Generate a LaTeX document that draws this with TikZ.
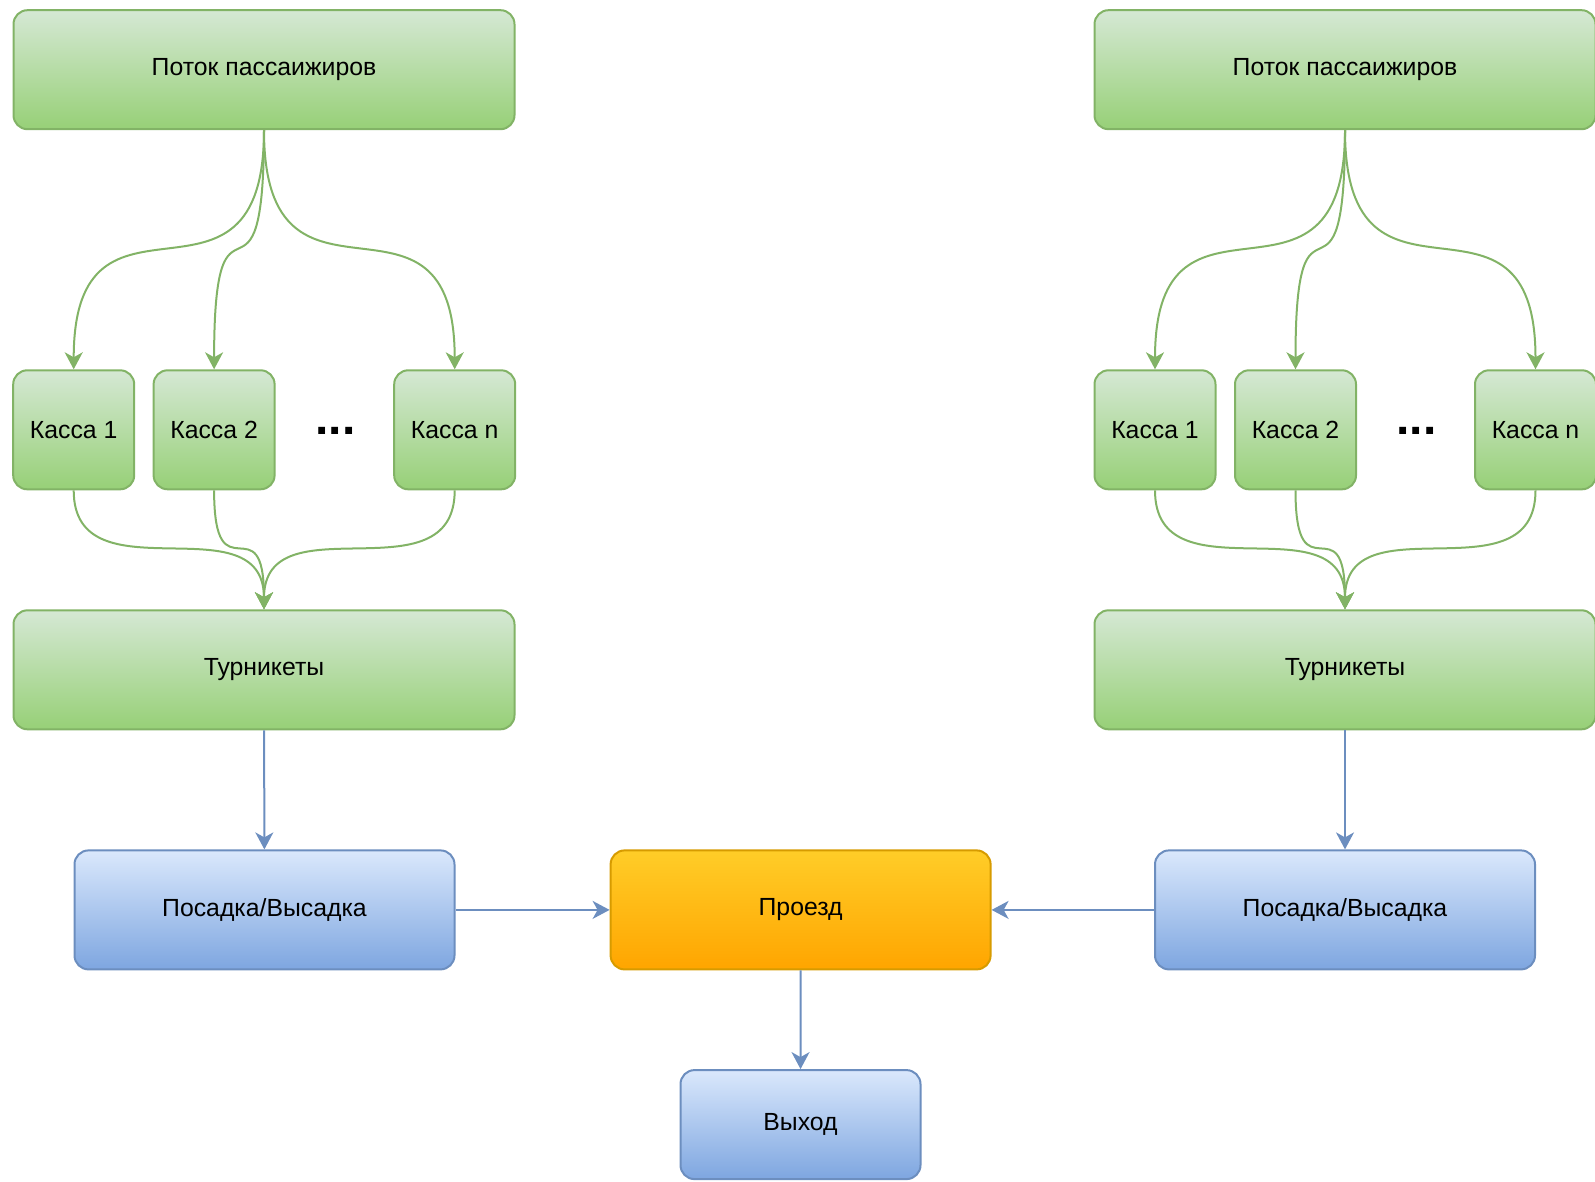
\documentclass[tikz,border=0pt]{standalone}
\usepackage{fontspec}
\setmainfont{Liberation Sans}
\usetikzlibrary{arrows.meta}
\definecolor{flgreentop}{HTML}{D5E8D4}
\definecolor{flgreenbot}{HTML}{97D077}
\definecolor{flgreenline}{HTML}{82B366}
\definecolor{flbluetop}{HTML}{DAE8FC}
\definecolor{flbluebot}{HTML}{7EA6E0}
\definecolor{flblueline}{HTML}{6C8EBF}
\definecolor{florangetop}{HTML}{FFCD28}
\definecolor{florangebot}{HTML}{FFA500}
\definecolor{florangeline}{HTML}{D79B00}

\begin{document}
\begin{tikzpicture}[
  x=0.5pt, y=-0.5pt,
  box/.style={rectangle, rounded corners=7pt, line width=1pt, inner sep=0pt, align=center, font=\fontsize{12.4}{14}\selectfont},
  greenbox/.style={box, draw=flgreenline, top color=flgreentop, bottom color=flgreenbot},
  bluebox/.style={box, draw=flblueline, top color=flbluetop, bottom color=flbluebot},
  orangebox/.style={box, draw=florangeline, top color=florangetop, bottom color=florangebot},
  wide/.style={minimum width=250.5pt, minimum height=59.5pt},
  kassa/.style={minimum width=60.5pt, minimum height=59.5pt},
  mid/.style={minimum width=190pt, minimum height=59.5pt},
  greenarrow/.style={-{Stealth[length=8.5pt, width=9pt, inset=2.5pt]}, line width=1pt, draw=flgreenline},
  bluearrow/.style={-{Stealth[length=8.5pt, width=9pt, inset=2.5pt]}, line width=1pt, draw=flblueline}
]
\useasboundingbox (0,0) rectangle (1595,1182);

% Left side
\node[greenbox, wide] (fL) at (264,69.7) {Поток пассаижиров};
\node[greenbox, kassa] (k1L) at (73.7,429.8) {Касса 1};
\node[greenbox, kassa] (k2L) at (214.1,429.8) {Касса 2};
\node[greenbox, kassa] (knL) at (454.7,429.8) {Касса n};
\node[anchor=base, inner sep=0pt, font=\fontsize{24}{24}\selectfont\bfseries] (dotsL) at (335.5,434) {...};
\node[greenbox, wide] (tL) at (264,669.8) {Турникеты};
\node[bluebox, mid] (pL) at (264.5,909.9) {Посадка/Высадка};

% Right side
\node[greenbox, wide] (fR) at (1345,69.7) {Поток пассаижиров};
\node[greenbox, kassa] (k1R) at (1155,429.8) {Касса 1};
\node[greenbox, kassa] (k2R) at (1295.5,429.8) {Касса 2};
\node[greenbox, kassa] (knR) at (1535.5,429.8) {Касса n};
\node[anchor=base, inner sep=0pt, font=\fontsize{24}{24}\selectfont\bfseries] (dotsR) at (1416.5,434) {...};
\node[greenbox, wide] (tR) at (1345,669.8) {Турникеты};
\node[bluebox, mid] (pR) at (1345,909.9) {Посадка/Высадка};

% Middle
\node[orangebox, mid] (ride) at (800.6,909.9) {Проезд};
\node[bluebox, minimum width=120pt, minimum height=54.5pt] (exit) at (800.5,1124.6) {Выход};

% Flow to the ticket desks
\draw[greenarrow] (fL.south) .. controls +(0,210) and +(0,-210) .. (k1L.north);
\draw[greenarrow] (fL.south) .. controls +(0,210) and +(0,-210) .. (k2L.north);
\draw[greenarrow] (fL.south) .. controls +(0,210) and +(0,-210) .. (knL.north);
\draw[greenarrow] (fR.south) .. controls +(0,210) and +(0,-210) .. (k1R.north);
\draw[greenarrow] (fR.south) .. controls +(0,210) and +(0,-210) .. (k2R.north);
\draw[greenarrow] (fR.south) .. controls +(0,210) and +(0,-210) .. (knR.north);

% Ticket desks to the turnstiles
\draw[greenarrow] (k1L.south) .. controls +(0,110) and +(0,-110) .. (tL.north);
\draw[greenarrow] (k2L.south) .. controls +(0,110) and +(0,-110) .. (tL.north);
\draw[greenarrow] (knL.south) .. controls +(0,110) and +(0,-110) .. (tL.north);
\draw[greenarrow] (k1R.south) .. controls +(0,110) and +(0,-110) .. (tR.north);
\draw[greenarrow] (k2R.south) .. controls +(0,110) and +(0,-110) .. (tR.north);
\draw[greenarrow] (knR.south) .. controls +(0,110) and +(0,-110) .. (tR.north);

% Blue arrows
\draw[bluearrow] (tL) -- (pL);
\draw[bluearrow] (tR) -- (pR);
\draw[bluearrow] (pL) -- (ride);
\draw[bluearrow] (pR) -- (ride);
\draw[bluearrow] (ride) -- (exit);

\end{tikzpicture}
\end{document}
